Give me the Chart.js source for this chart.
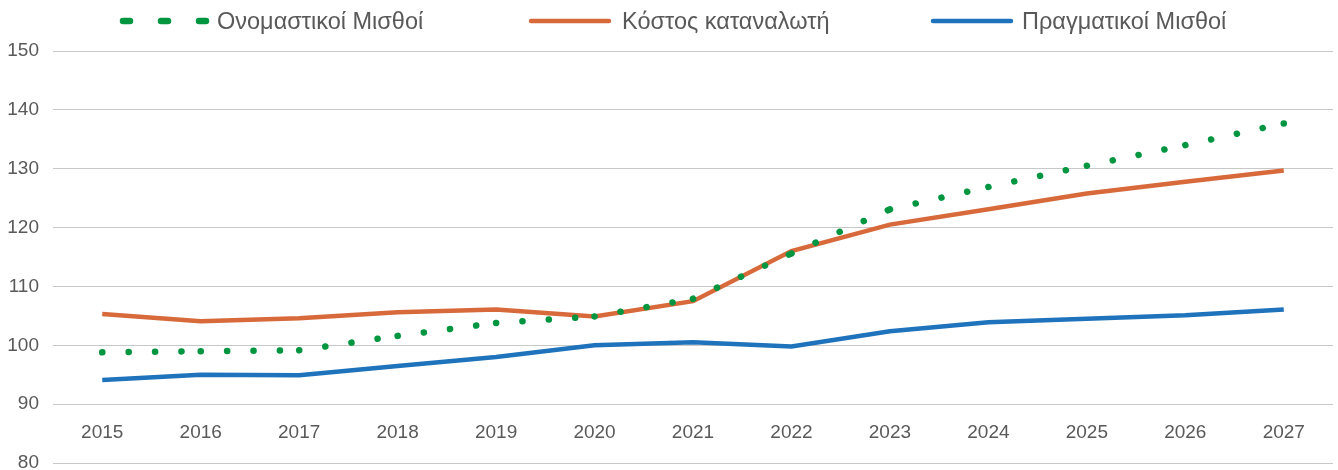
<!DOCTYPE html>
<html lang="el">
<head>
<meta charset="utf-8">
<script src="https://cdn.jsdelivr.net/npm/chart.js@4/dist/chart.umd.min.js"></script>
<style>
  body { margin: 0; background: #fff; }
  #wrap { position: relative; width: 1338px; height: 470px; }
  #legend { position: absolute; left: 0; top: 0; width: 1338px; height: 44px; }
  .sample { position: absolute; top: 8px; }
  .label { position: absolute; top: 6px; line-height: 30px;
           font-family: "Liberation Sans", Arial, sans-serif; font-size: 23.5px; color: #595959; white-space: nowrap; }
</style>
</head>
<body>
<div id="wrap">
  <canvas id="chart-canvas" width="1338" height="470"></canvas>
  <div id="legend"></div>
</div>
<script>
const years = ['2015', '2016', '2017', '2018', '2019', '2020', '2021', '2022', '2023', '2024', '2025', '2026', '2027'];

const nominalWages = [98.8, 99.0, 99.15, 101.6, 103.8, 104.9, 107.9, 115.6, 123.1, 126.9, 130.5, 134.0, 137.7];
const consumerCost = [105.3, 104.1, 104.6, 105.6, 106.1, 104.9, 107.5, 116.0, 120.5, 123.1, 125.8, 127.8, 129.7];
const realWages = [94.1, 95.0, 94.9, 96.5, 98.0, 100.0, 100.5, 99.8, 102.4, 103.9, 104.5, 105.1, 106.1];

const labels = ['Ονομαστικοί Μισθοί', 'Κόστος καταναλωτή', 'Πραγματικοί Μισθοί'];
const colors = ['#00953f', '#d8693a', '#1f73bc'];

const yTicks = [80, 90, 100, 110, 120, 130, 140, 150];

const chart = document.querySelector('#chart-canvas');

// dotted line restarts its pattern at every point (like Excel does):
// alternate a tiny difference so chart.js strokes each segment on its own
const dotPattern = (ctx) => ctx.p0DataIndex % 2 ? [0.1, 26.3] : [0.1, 26.301];

let chartObject = new Chart(chart, {
  type: 'line',
  data: {
    labels: years,
    datasets: [{
      label: labels[0],
      data: nominalWages,
      borderColor: colors[0],
      borderWidth: 6.5,
      borderDash: [0.1, 26.3],
      borderCapStyle: 'round',
      segment: { borderDash: dotPattern },
      pointRadius: (ctx) => ctx.dataIndex === years.length - 1 ? 3.25 : 0,
      pointBorderWidth: 0,
      pointBackgroundColor: colors[0]
    }, {
      label: labels[1],
      data: consumerCost,
      borderColor: colors[1],
      borderWidth: 4.5,
      pointRadius: 0
    }, {
      label: labels[2],
      data: realWages,
      borderColor: colors[2],
      borderWidth: 4.5,
      pointRadius: 0
    }]
  },
  options: {
    responsive: false,
    animation: false,
    layout: { padding: { top: 51, bottom: 7, right: 5, left: 0 } },
    plugins: {
      legend: { display: false },
      tooltip: { enabled: false }
    },
    scales: {
      x: {
        position: { y: 90 },
        offset: true,
        grid: { display: false, drawTicks: false },
        border: { display: false },
        ticks: {
          color: '#595959',
          padding: 17,
          font: { family: '"Liberation Sans", Arial, sans-serif', size: 19 }
        }
      },
      y: {
        min: 80,
        max: 150,
        afterFit: (scale) => {
          scale.width = 53;
          // tick padding should not push the plot area in from top/bottom
          scale.paddingTop = 0;
          scale.paddingBottom = 0;
        },
        afterBuildTicks: (scale) => { scale.ticks = yTicks.map(v => ({ value: v })); },
        grid: { color: '#c8c8c8', lineWidth: 1, drawTicks: false },
        border: { display: false },
        ticks: {
          color: '#595959',
          padding: 14,
          font: { family: '"Liberation Sans", Arial, sans-serif', size: 19 }
        }
      }
    }
  }
});

// legend: line samples drawn like the series, then the label text
const legendBox = document.querySelector('#legend');
const sampleLeft = [116, 524, 926];
const sampleWidth = [98, 90, 90];
const textLeft = [217, 622, 1022];

chartObject.data.datasets.forEach((ds, i) => {
  const w = sampleWidth[i];
  let line;
  if (ds.borderDash) {
    line = `<line x1="7" y1="13" x2="${w - 4}" y2="13" stroke="${ds.borderColor}" stroke-width="6.5" stroke-linecap="round" stroke-dasharray="7 31"/>`;
  } else {
    line = `<line x1="7" y1="13" x2="${w - 5}" y2="13" stroke="${ds.borderColor}" stroke-width="4.5" stroke-linecap="round"/>`;
  }
  const s = document.createElement('div');
  s.className = 'sample';
  s.style.left = sampleLeft[i] + 'px';
  s.innerHTML = `<svg width="${w}" height="26">${line}</svg>`;
  legendBox.appendChild(s);

  const t = document.createElement('div');
  t.className = 'label';
  t.style.left = textLeft[i] + 'px';
  t.textContent = ds.label;
  legendBox.appendChild(t);
});
</script>
</body>
</html>
